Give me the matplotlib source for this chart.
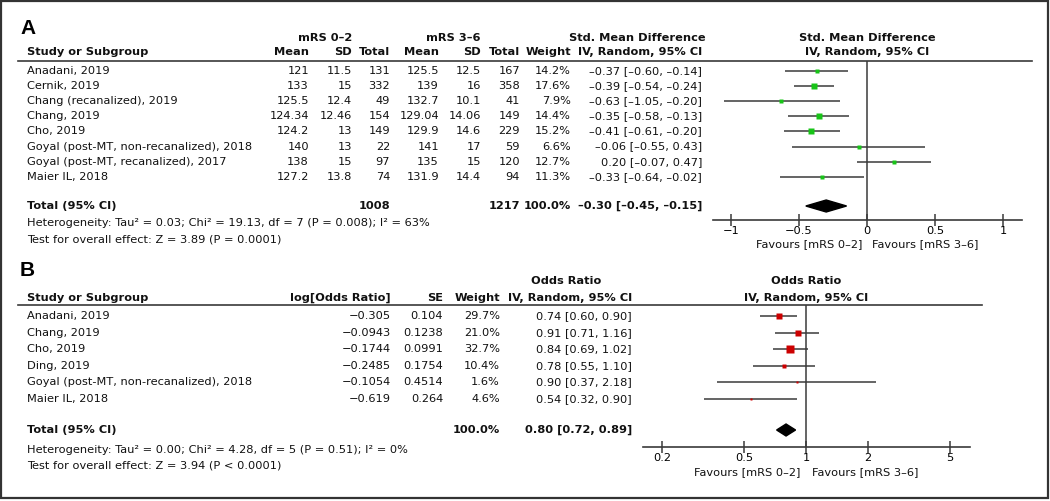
import numpy as np
import matplotlib
matplotlib.use("Agg")
import matplotlib.pyplot as plt
from matplotlib.patches import Rectangle
from matplotlib.ticker import FixedLocator, FixedFormatter

# ---------------- datos panel A ----------------
estudios_a = ["Anadani, 2019", "Cernik, 2019", "Chang (recanalized), 2019", "Chang, 2019",
              "Cho, 2019", "Goyal (post-MT, non-recanalized), 2018",
              "Goyal (post-MT, recanalized), 2017", "Maier IL, 2018"]
media1 = ["121", "133", "125.5", "124.34", "124.2", "140", "138", "127.2"]
sd1 = ["11.5", "15", "12.4", "12.46", "13", "13", "15", "13.8"]
n1 = ["131", "332", "49", "154", "149", "22", "97", "74"]
media2 = ["125.5", "139", "132.7", "129.04", "129.9", "141", "135", "131.9"]
sd2 = ["12.5", "16", "10.1", "14.06", "14.6", "17", "15", "14.4"]
n2 = ["167", "358", "41", "149", "229", "59", "120", "94"]
peso_a = [14.2, 17.6, 7.9, 14.4, 15.2, 6.6, 12.7, 11.3]
smd = [-0.37, -0.39, -0.63, -0.35, -0.41, -0.06, 0.20, -0.33]
smd_lo = [-0.60, -0.54, -1.05, -0.58, -0.61, -0.55, -0.07, -0.64]
smd_hi = [-0.14, -0.24, -0.20, -0.13, -0.20, 0.43, 0.47, -0.02]
total_a = (-0.30, -0.45, -0.15)
ticks_a = [-1, -0.5, 0, 0.5, 1]

# ---------------- datos panel B ----------------
estudios_b = ["Anadani, 2019", "Chang, 2019", "Cho, 2019", "Ding, 2019",
              "Goyal (post-MT, non-recanalized), 2018", "Maier IL, 2018"]
log_or = ["−0.305", "−0.0943", "−0.1744", "−0.2485", "−0.1054", "−0.619"]
se_b = ["0.104", "0.1238", "0.0991", "0.1754", "0.4514", "0.264"]
peso_b = [29.7, 21.0, 32.7, 10.4, 1.6, 4.6]
odds = [0.74, 0.91, 0.84, 0.78, 0.90, 0.54]
odds_lo = [0.60, 0.71, 0.69, 0.55, 0.37, 0.32]
odds_hi = [0.90, 1.16, 1.02, 1.10, 2.18, 0.90]
total_b = (0.80, 0.72, 0.89)
ticks_b = [0.2, 0.5, 1, 2, 5]

W, H = 1050, 501
fs = 8.2
gris = "#3a3a3a"
fig = plt.figure(figsize=(W / 100, H / 100), dpi=100)
bg = fig.add_axes([0, 0, 1, 1])
bg.set_xlim(0, W)
bg.set_ylim(H, 0)
bg.axis("off")
bg.add_patch(Rectangle((1, 1), W - 3, H - 4, fill=False, lw=1.6, ec="#333333"))


def txt(x, y, s, ha="right", bold=False, size=fs):
    bg.text(x, y, s, ha=ha, va="center", fontsize=size,
            fontweight="bold" if bold else "normal", color="#111111")


def ci(v, lo, hi):
    f = lambda z: f"{z:.2f}".replace("-", "–")
    return f"{f(v)} [{f(lo)}, {f(hi)}]"


def eje_px(x0, x1, y0, y1):
    return fig.add_axes([x0 / W, 1 - y1 / H, (x1 - x0) / W, (y1 - y0) / H])


# =============== PANEL A ===============
bg.text(20, 28, "A", ha="left", va="center", fontsize=15, fontweight="bold",
        family="Liberation Sans")
txt(352, 38, "mRS 0–2", bold=True)
txt(481, 38, "mRS 3–6", bold=True)
txt(637, 38, "Std. Mean Difference", ha="center", bold=True)
txt(867, 38, "Std. Mean Difference", ha="center", bold=True)
hdr_y = 52
txt(27, hdr_y, "Study or Subgroup", ha="left", bold=True)
for x, s in zip([309, 352, 390, 439, 481, 520, 571, 702],
                ["Mean", "SD", "Total", "Mean", "SD", "Total", "Weight", "IV, Random, 95% CI"]):
    txt(x, hdr_y, s, bold=True)
txt(867, hdr_y, "IV, Random, 95% CI", ha="center", bold=True)
bg.plot([18, 1032], [61, 61], color=gris, lw=1.2)

fila0, paso = 71, 15.1
filas_a = fila0 + paso * np.arange(len(estudios_a))
for i, y in enumerate(filas_a):
    txt(27, y, estudios_a[i], ha="left")
    txt(309, y, media1[i]); txt(352, y, sd1[i]); txt(390, y, n1[i])
    txt(439, y, media2[i]); txt(481, y, sd2[i]); txt(520, y, n2[i])
    txt(571, y, f"{peso_a[i]:.1f}%")
    txt(702, y, ci(smd[i], smd_lo[i], smd_hi[i]))
yt_a = 206
txt(27, yt_a, "Total (95% CI)", ha="left", bold=True)
txt(390, yt_a, "1008", bold=True)
txt(520, yt_a, "1217", bold=True)
txt(571, yt_a, "100.0%", bold=True)
txt(702, yt_a, ci(*total_a), bold=True)
txt(27, 223, "Heterogeneity: Tau² = 0.03; Chi² = 19.13, df = 7 (P = 0.008); I² = 63%", ha="left")
txt(27, 240, "Test for overall effect: Z = 3.89 (P = 0.0001)", ha="left")

# forest A (eje en px: 0 -> 867, 136 px por unidad)
axa = eje_px(713, 1022, 61, 220)
axa.set_xlim((713 - 867) / 136, (1022 - 867) / 136)
axa.set_ylim(220, 61)
axa.hlines(filas_a, smd_lo, smd_hi, color=gris, lw=1.1)
for y, v, w in zip(filas_a, smd, peso_a):
    axa.plot(v, y, "s", color="#18c418", ms=max(2.2, 0.95 * np.sqrt(w)), mec="none")
v, lo, hi = total_a
axa.fill([lo, v, hi, v], [yt_a, yt_a - 6, yt_a, yt_a + 6], color="black")
axa.axvline(0, color=gris, lw=1.1)
for s in ["top", "left", "right"]:
    axa.spines[s].set_visible(False)
axa.spines["bottom"].set_color(gris)
axa.spines["bottom"].set_linewidth(1.2)
axa.set_yticks([])
axa.xaxis.set_major_locator(FixedLocator(ticks_a))
axa.xaxis.set_major_formatter(FixedFormatter(["−1", "−0.5", "0", "0.5", "1"]))
axa.tick_params(axis="x", direction="inout", length=9, width=1.1, color=gris,
                labelsize=fs, pad=0)
axa.patch.set_alpha(0)
txt(862, 244, "Favours [mRS 0–2]")
txt(872, 244, "Favours [mRS 3–6]", ha="left")

# =============== PANEL B ===============
bg.text(20, 271, "B", ha="left", va="center", fontsize=15, fontweight="bold",
        family="Liberation Sans")
txt(566, 281, "Odds Ratio", ha="center", bold=True)
txt(806, 281, "Odds Ratio", ha="center", bold=True)
hdr_b = 298
txt(27, hdr_b, "Study or Subgroup", ha="left", bold=True)
for x, s in zip([391, 443, 500, 632],
                ["log[Odds Ratio]", "SE", "Weight", "IV, Random, 95% CI"]):
    txt(x, hdr_b, s, bold=True)
txt(806, hdr_b, "IV, Random, 95% CI", ha="center", bold=True)
bg.plot([18, 982], [305, 305], color=gris, lw=1.2)

filas_b = 316 + 16.6 * np.arange(len(estudios_b))
for i, y in enumerate(filas_b):
    txt(27, y, estudios_b[i], ha="left")
    txt(391, y, log_or[i]); txt(443, y, se_b[i])
    txt(500, y, f"{peso_b[i]:.1f}%")
    txt(632, y, ci(odds[i], odds_lo[i], odds_hi[i]))
yt_b = 430
txt(27, yt_b, "Total (95% CI)", ha="left", bold=True)
txt(500, yt_b, "100.0%", bold=True)
txt(632, yt_b, ci(*total_b), bold=True)
txt(27, 450, "Heterogeneity: Tau² = 0.00; Chi² = 4.28, df = 5 (P = 0.51); I² = 0%", ha="left")
txt(27, 466, "Test for overall effect: Z = 3.94 (P < 0.0001)", ha="left")

# forest B (log: 1 -> 806, 206 px por década)
axb = eje_px(643, 970, 305, 447)
axb.set_xscale("log")
axb.set_xlim(10 ** ((643 - 806) / 206), 10 ** ((970 - 806) / 206))
axb.set_ylim(447, 305)
axb.hlines(filas_b, odds_lo, odds_hi, color=gris, lw=1.1)
for y, v, w in zip(filas_b, odds, peso_b):
    axb.plot(v, y, "s", color="#cc0000", ms=max(2.0, 0.9 * np.sqrt(w)), mec="none")
v, lo, hi = total_b
axb.fill([lo, v, hi, v], [yt_b, yt_b - 6, yt_b, yt_b + 6], color="black")
axb.axvline(1, color=gris, lw=1.1)
for s in ["top", "left", "right"]:
    axb.spines[s].set_visible(False)
axb.spines["bottom"].set_color(gris)
axb.spines["bottom"].set_linewidth(1.2)
axb.set_yticks([])
axb.xaxis.set_major_locator(FixedLocator(ticks_b))
axb.xaxis.set_major_formatter(FixedFormatter([str(t) for t in ticks_b]))
axb.xaxis.set_minor_locator(FixedLocator([]))
axb.tick_params(axis="x", direction="inout", length=9, width=1.1, color=gris,
                labelsize=fs, pad=0)
axb.patch.set_alpha(0)
txt(800, 472, "Favours [mRS 0–2]")
txt(812, 472, "Favours [mRS 3–6]", ha="left")

fig.savefig("out.png", dpi=100)
